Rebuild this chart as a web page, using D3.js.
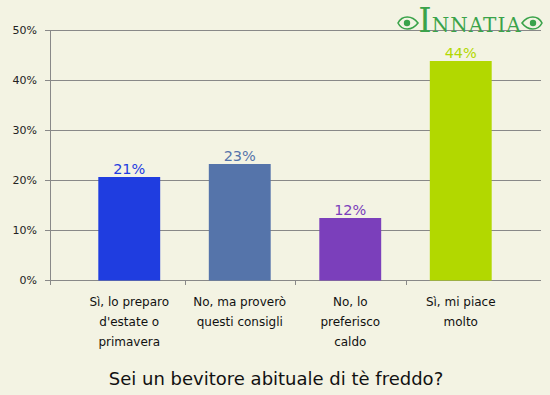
<!DOCTYPE html>
<html>
<head>
<meta charset="utf-8">
<script src="https://cdn.jsdelivr.net/npm/d3@7"></script>
<style>
  body { margin: 0; background: #f3f3e3; }
  svg { display: block; }
</style>
</head>
<body>
<div id="chart"></div>
<script>
// data
var categories = [
    ["Sì, lo preparo", "d'estate o", "primavera"],
    ["No, ma proverò", "questi consigli"],
    ["No, lo", "preferisco", "caldo"],
    ["Sì, mi piace", "molto"]
];
var values = [20.6, 23.2, 12.4, 43.8];
var valueLabels = ["21%", "23%", "12%", "44%"];
var colors = ["#1f3de0", "#5574aa", "#7b3fbb", "#b2d800"];
var yTicks = [0, 10, 20, 30, 40, 50];
var title = "Sei un bevitore abituale di tè freddo?";

var W = 550, H = 395;
var svg = d3.select("#chart").append("svg")
    .attr("width", W)
    .attr("height", H);

svg.append("rect").attr("width", W).attr("height", H).attr("fill", "#f3f3e3");

// plot area
var plot = {left: 50, right: 541, top: 30, bottom: 280};

var y = d3.scaleLinear().domain([0, 50]).range([plot.bottom, plot.top]);
var x = d3.scaleBand()
    .domain(d3.range(categories.length))
    .range([74, 516])
    .paddingInner(0)
    .paddingOuter(0);
var barW = x.bandwidth() * 0.56;

// gridlines
svg.append("g").selectAll("line")
    .data(yTicks)
    .enter().append("line")
    .attr("x1", plot.left - 5).attr("x2", plot.right)
    .attr("y1", function(d) { return y(d) + 0.5; })
    .attr("y2", function(d) { return y(d) + 0.5; })
    .attr("stroke", "#888")
    .attr("stroke-width", 1);

// y axis line
svg.append("line")
    .attr("x1", plot.left + 0.5).attr("x2", plot.left + 0.5)
    .attr("y1", plot.top).attr("y2", plot.bottom + 5)
    .attr("stroke", "#888");

// y tick labels
svg.append("g").selectAll("text")
    .data(yTicks)
    .enter().append("text")
    .attr("x", 37)
    .attr("y", function(d) { return y(d) + 4; })
    .attr("text-anchor", "end")
    .attr("font-family", "DejaVu Sans, Verdana, sans-serif")
    .attr("font-size", 11)
    .attr("fill", "#222")
    .text(function(d) { return d + "%"; });

// x ticks between categories
svg.append("g").selectAll("line")
    .data(d3.range(1, categories.length))
    .enter().append("line")
    .attr("x1", function(i) { return Math.round(x(i)) + 0.5; })
    .attr("x2", function(i) { return Math.round(x(i)) + 0.5; })
    .attr("y1", plot.bottom).attr("y2", plot.bottom + 5)
    .attr("stroke", "#888");

// bars
svg.append("g").selectAll("rect")
    .data(values)
    .enter().append("rect")
    .attr("x", function(d, i) { return x(i) + (x.bandwidth() - barW) / 2; })
    .attr("width", barW)
    .attr("y", function(d) { return y(d); })
    .attr("height", function(d) { return plot.bottom + 0.5 - y(d); })
    .attr("fill", function(d, i) { return colors[i]; });

// value labels
svg.append("g").selectAll("text")
    .data(values)
    .enter().append("text")
    .attr("x", function(d, i) { return x(i) + x.bandwidth() / 2; })
    .attr("y", function(d) { return y(d) - 3; })
    .attr("text-anchor", "middle")
    .attr("font-family", "DejaVu Sans, Verdana, sans-serif")
    .attr("font-size", 14.5)
    .attr("fill", function(d, i) { return colors[i]; })
    .text(function(d, i) { return valueLabels[i]; });

// category labels
var cat = svg.append("g").selectAll("text")
    .data(categories)
    .enter().append("text")
    .attr("text-anchor", "middle")
    .attr("font-family", "DejaVu Sans, Verdana, sans-serif")
    .attr("font-size", 12)
    .attr("fill", "#111");
cat.selectAll("tspan")
    .data(function(d, i) { return d.map(function(s) { return {s: s, i: i}; }); })
    .enter().append("tspan")
    .attr("x", function(d) { return x(d.i) + x.bandwidth() / 2; })
    .attr("y", function(d, j) { return 306 + j * 20; })
    .text(function(d) { return d.s; });

// title
svg.append("text")
    .attr("x", 276)
    .attr("y", 385)
    .attr("text-anchor", "middle")
    .attr("font-family", "DejaVu Sans, Verdana, sans-serif")
    .attr("font-size", 18)
    .attr("fill", "#111")
    .text(title);

// logo
var logo = svg.append("g").attr("fill", "#3aa34a");
var lt = logo.append("text")
    .attr("x", 470)
    .attr("y", 32)
    .attr("text-anchor", "middle")
    .attr("font-family", "DejaVu Serif, Liberation Serif, serif")
    .attr("fill", "#3aa34a");
lt.append("tspan").attr("font-size", 34).text("I");
lt.append("tspan").attr("font-size", 20).attr("letter-spacing", 1).text("NNATIA");
[[408, -1], [532, 1]].forEach(function(p) {
    var g = logo.append("g").attr("transform", "translate(" + p[0] + ",23) scale(" + p[1] + ",1)");
    g.append("path")
        .attr("d", "M-10,0 C-4,-8 6,-8 10,0 C6,8 -4,8 -10,0 Z")
        .attr("fill", "none").attr("stroke", "#3aa34a").attr("stroke-width", 1.6);
    g.append("circle").attr("cx", 1).attr("cy", 0).attr("r", 3.2).attr("fill", "#3aa34a");
});
</script>
</body>
</html>
